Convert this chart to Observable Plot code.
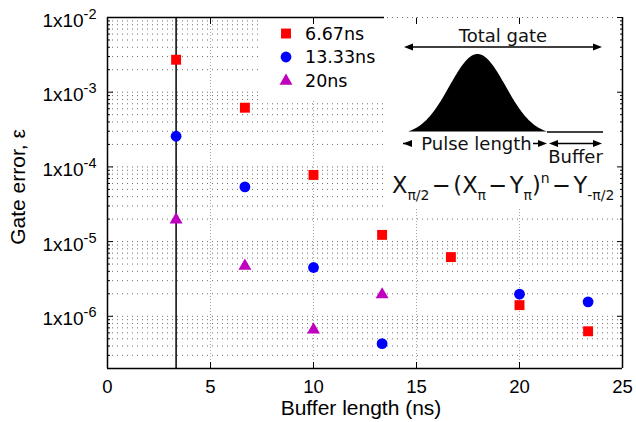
<!DOCTYPE html>
<html>
<head>
<meta charset="utf-8">
<script src="https://cdn.jsdelivr.net/npm/d3@7"></script>
<script src="https://cdn.jsdelivr.net/npm/@observablehq/plot@0.6"></script>
<style>
  html, body { margin: 0; padding: 0; background: #fff; }
  #chart svg { display: block; }
</style>
</head>
<body>
<div id="chart"></div>
<script>
// Buffer lengths (ns) at which the gate sequence was evaluated
const bufferLength = [3.33, 6.67, 10, 13.33, 16.67, 20, 23.33];
// Gate error for each pulse length (null = no point)
const error667 = [2.72e-3, 6.2e-4, 7.8e-5, 1.23e-5, 6.2e-6, 1.41e-6, 6.3e-7];
const error1333 = [2.57e-4, 5.4e-5, 4.5e-6, 4.3e-7, null, 1.98e-6, 1.56e-6];
const error20 = [1.96e-5, 4.7e-6, 6.6e-7, 1.95e-6, null, null, null];
const seriesNames = ["6.67ns", "13.33ns", "20ns"];
const seriesColors = ["#ff0000", "#0000ff", "#bf00bf"];
const seriesSymbols = ["square", "circle", "triangle"];
const seriesRadius = [5.6, 5.4, 4.8];
const xTicks = [0, 5, 10, 15, 20, 25];
const xGridLines = [5, 10, 15, 20];
const yDecades = [1e-6, 1e-5, 1e-4, 1e-3, 1e-2];
const xDomain = [0, 25];
const yDomain = [2e-7, 1e-2];
const referenceBuffer = 3.33;

const yMinor = [1e-7, 1e-6, 1e-5, 1e-4, 1e-3]
  .flatMap(d => [2, 3, 4, 5, 6, 7, 8, 9].map(k => k * d))
  .filter(v => v > yDomain[0] * 1.001 && v < yDomain[1]);

const rows = [error667, error1333, error20].flatMap((vals, i) =>
  vals.map((v, j) => ({buffer: bufferLength[j], error: v, series: seriesNames[i]}))
      .filter(d => d.error != null));

const sansUI = "'DejaVu Sans', Verdana, sans-serif";
const ns = "http://www.w3.org/2000/svg";

// White panels behind the legend and the pulse sketch
function panels(index, scales, values, dim) {
  const R = dim.width - dim.marginRight, T = dim.marginTop;
  const g = d3.create("svg:g").attr("fill", "white");
  g.append("rect").attr("x", 261).attr("y", T + 1).attr("width", R - 238 - 261).attr("height", 82);
  g.append("rect").attr("x", R - 238).attr("y", T + 1).attr("width", 237).attr("height", 190);
  return g.node();
}

// Top border: solid up to the sketch panel
function topBorder(index, scales, values, dim) {
  const R = dim.width - dim.marginRight, T = dim.marginTop;
  return d3.create("svg:line")
    .attr("x1", dim.marginLeft).attr("x2", R - 238)
    .attr("y1", T + 0.5).attr("y2", T + 0.5)
    .attr("stroke", "black").attr("stroke-width", 1.5).node();
}

function arrowHead(g, x, y, dir) {
  g.append("path")
    .attr("d", `M${x},${y}L${x - dir * 9},${y - 3.5}L${x - dir * 9},${y + 3.5}Z`)
    .attr("fill", "black");
}

// Legend plus pulse sketch and sequence formula
function annotations(index, scales, values, dim) {
  const R = dim.width - dim.marginRight;
  const g = d3.create("svg:g").attr("text-anchor", "start");

  // legend
  const lx = 286, ly = [33.5, 57, 81];
  seriesNames.forEach((name, i) => {
    const sym = {square: d3.symbolSquare, circle: d3.symbolCircle, triangle: d3.symbolTriangle}[seriesSymbols[i]];
    g.append("path")
      .attr("transform", `translate(${lx},${ly[i]})`)
      .attr("d", d3.symbol(sym, Math.PI * seriesRadius[i] ** 2)())
      .attr("fill", seriesColors[i]);
    g.append("text")
      .attr("x", 305).attr("y", ly[i] + 6.3)
      .attr("text-anchor", "start")
      .attr("font-family", sansUI).attr("font-size", 17.5)
      .text(name);
  });

  // pulse sketch
  const s = R - 238;              // left edge of sketch panel
  const ax0 = s + 20, ax1 = R - 20;
  const line = (x1, y1, x2, y2) => g.append("line")
    .attr("x1", x1).attr("y1", y1).attr("x2", x2).attr("y2", y2)
    .attr("stroke", "black").attr("stroke-width", 1.5);

  g.append("text").attr("x", (ax0 + ax1) / 2).attr("y", 42)
    .attr("text-anchor", "middle").attr("font-family", sansUI).attr("font-size", 18)
    .attr("fill", "#111").text("Total gate");
  line(ax0 + 4, 47, ax1 - 4, 47);
  arrowHead(g, ax0, 47, -1);
  arrowHead(g, ax1, 47, 1);

  const p0 = s + 24, p1 = s + 163, base = 131.5, peak = 54, sigma = 28;
  const mid = (p0 + p1) / 2, half = (p1 - p0) / 2;
  const e0 = Math.exp(-(half * half) / (2 * sigma * sigma));
  const pts = d3.range(0, 141).map(k => {
    const t = -half + (k / 140) * 2 * half;
    const v = (Math.exp(-(t * t) / (2 * sigma * sigma)) - e0) / (1 - e0);
    return [mid + t, base - v * (base - peak)];
  });
  g.append("path").attr("d", d3.line()(pts) + "Z").attr("fill", "black");
  line(p1, base + 0.5, ax1 + 1, base + 0.5);

  const ay = 143.5;
  line(ax0 - 1, ay, ax0 + 8, ay);
  arrowHead(g, ax0 - 1, ay, -1);
  g.append("text").attr("x", (ax0 + p1) / 2 + 1).attr("y", ay + 6)
    .attr("text-anchor", "middle").attr("font-family", sansUI).attr("font-size", 18)
    .attr("fill", "#111").text("Pulse length");
  line(p1 - 14, ay, p1 - 4, ay);
  arrowHead(g, p1, ay, 1);
  line(p1 + 6, ay, ax1 - 4, ay);
  arrowHead(g, p1 + 2, ay, -1);
  arrowHead(g, ax1, ay, 1);
  g.append("text").attr("x", (p1 + ax1) / 2 + 1).attr("y", 162.5)
    .attr("text-anchor", "middle").attr("font-family", sansUI).attr("font-size", 18)
    .attr("fill", "#111").text("Buffer");

  // pulse sequence
  const f = g.append("text").attr("x", s + 8).attr("y", 193)
    .attr("text-anchor", "start")
    .attr("font-family", sansUI).attr("font-size", 22.5).attr("fill", "#111");
  const part = (txt, opts = {}) => {
    const t = f.append("tspan").text(txt);
    if (opts.dy) t.attr("dy", opts.dy);
    if (opts.dx) t.attr("dx", opts.dx);
    if (opts.size) t.attr("font-size", opts.size);
  };
  part("X");
  part("π/2", {dy: 7, size: 14});
  part("−", {dy: -7, dx: 2.5});
  part("(", {dx: 2.5});
  part("X");
  part("π", {dy: 7, size: 14});
  part("−", {dy: -7, dx: 2.5});
  part("Y", {dx: 2.5});
  part("π", {dy: 7, size: 14});
  part(")", {dy: -7});
  part("n", {dy: -10, size: 14});
  part("−", {dy: 10, dx: 2.5});
  part("Y", {dx: 2.5});
  part("-π/2", {dy: 7, size: 14});
  return g.node();
}

const tickOnly = () => "";
const dotted = {stroke: "#6f6f6f", strokeDasharray: "1,4", strokeWidth: 1};

const plot = Plot.plot({
  width: 636,
  height: 422,
  marginLeft: 107,
  marginTop: 17,
  marginRight: 14,
  marginBottom: 54,
  style: {fontFamily: "'Liberation Sans', Arial, Helvetica, sans-serif", background: "white", color: "black"},
  x: {domain: xDomain},
  y: {type: "log", domain: yDomain},
  marks: [
    Plot.ruleY(yMinor, dotted),
    Plot.ruleY(yDecades, dotted),
    Plot.ruleX(xGridLines, {stroke: "#a8a8a8", strokeDasharray: "1,2", strokeWidth: 1}),
    panels,
    Plot.ruleX([referenceBuffer], {stroke: "black", strokeWidth: 1.5}),
    Plot.ruleX([xDomain[0]], {stroke: "black", strokeWidth: 1.5}),
    Plot.ruleX([xDomain[1]], {stroke: "black", strokeWidth: 1.5}),
    Plot.ruleY([yDomain[0]], {stroke: "black", strokeWidth: 1.5}),
    topBorder,
    // inward ticks on all four sides
    Plot.axisY(yDecades, {anchor: "left", tickSize: 6, dx: 6, tickFormat: tickOnly, label: null}),
    Plot.axisY(yDecades, {anchor: "right", tickSize: 6, dx: -6, tickFormat: tickOnly, label: null}),
    Plot.axisY(yMinor, {anchor: "left", tickSize: 3, dx: 3, tickFormat: tickOnly, label: null}),
    Plot.axisY(yMinor, {anchor: "right", tickSize: 3, dx: -3, tickFormat: tickOnly, label: null}),
    Plot.axisX(xTicks, {anchor: "bottom", tickSize: 6, dy: -6, tickFormat: tickOnly, label: null}),
    Plot.axisX(xTicks, {anchor: "top", tickSize: 6, dy: 6, tickFormat: tickOnly, label: null}),
    // tick labels
    Plot.axisY(yDecades, {anchor: "left", tickSize: 0, tickPadding: 11, dy: 3, fontSize: 19,
      tickFormat: d => "1x10^" + Math.round(Math.log10(d)), label: null}),
    Plot.axisX(xTicks, {anchor: "bottom", tickSize: 0, tickPadding: 11, fontSize: 18.5,
      tickFormat: d => String(d), label: null}),
    Plot.text(["Buffer length (ns)"], {frameAnchor: "bottom", lineAnchor: "bottom", textAnchor: "middle", dx: -4, dy: 46, fontSize: 21}),
    Plot.text(["Gate error, ε"], {frameAnchor: "left", lineAnchor: "bottom", textAnchor: "middle", rotate: -90, dx: -82.5, dy: -6, fontSize: 21}),
    // data
    ...seriesNames.map((name, i) => Plot.dot(rows.filter(d => d.series === name), {
      x: "buffer", y: "error", symbol: seriesSymbols[i], fill: seriesColors[i], r: seriesRadius[i], stroke: "none"
    })),
    annotations
  ]
});

// Decade tick labels: 1x10 with a raised exponent
plot.querySelectorAll('[aria-label="y-axis tick label"] text').forEach(t => {
  const s = t.textContent;
  if (!s.includes("^")) return;
  const [mant, exp] = s.split("^");
  t.textContent = "";
  const a = document.createElementNS(ns, "tspan");
  a.textContent = mant;
  const b = document.createElementNS(ns, "tspan");
  b.setAttribute("dy", "-8");
  b.setAttribute("font-size", "14.5");
  b.textContent = exp;
  t.append(a, b);
});

document.getElementById("chart").append(plot);
</script>
</body>
</html>
